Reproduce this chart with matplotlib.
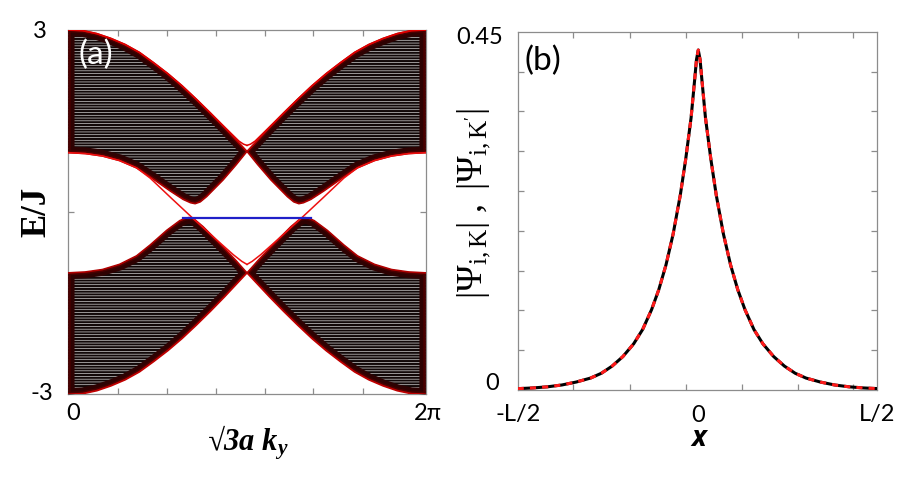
import numpy as np
import matplotlib
matplotlib.use('Agg')
import matplotlib.pyplot as plt
from matplotlib.patches import Polygon

plt.rcParams['mathtext.fontset'] = 'custom'
plt.rcParams['mathtext.rm'] = 'Liberation Serif'
plt.rcParams['mathtext.it'] = 'Liberation Serif:italic'
plt.rcParams['mathtext.bf'] = 'Liberation Serif:bold:italic'
plt.rcParams['hatch.color'] = '#e6e6e6'
plt.rcParams['hatch.linewidth'] = 0.45

TWO_PI = 2 * np.pi

# ---- panel (a): band edges, left half (0..pi) ----
k_top = [0, 0.25, 0.5, 0.75, 1.0, 1.25, 1.5, 1.75, 2.0, 2.25, 2.5, 2.75, 3.0, 3.14]
e_top = [3.00, 2.99, 2.94, 2.86, 2.76, 2.63, 2.46, 2.28, 2.08, 1.86, 1.63, 1.39, 1.14, 1.00]
e_bot = [-3.00, -2.99, -2.94, -2.86, -2.76, -2.63, -2.46, -2.28, -2.08, -1.86, -1.63, -1.39, -1.14, -1.00]

k_up_in = [0, 0.3, 0.6, 0.9, 1.2, 1.44, 1.79, 2.02, 2.15, 2.23, 2.32, 2.43, 2.72, 2.95, 3.14]
e_up_in = [0.98, 0.965, 0.925, 0.85, 0.73, 0.58, 0.35, 0.21, 0.155, 0.14, 0.17, 0.255, 0.53, 0.78, 1.00]

k_lo_in = [0, 0.3, 0.6, 0.9, 1.2, 1.44, 1.73, 1.96, 2.06, 2.12, 2.20, 2.37, 2.72, 2.95, 3.14]
e_lo_in = [-1.00, -0.985, -0.945, -0.86, -0.72, -0.54, -0.30, -0.14, -0.10, -0.09, -0.105, -0.24, -0.57, -0.80, -1.00]

# red outer outline near the upper crossing sits a bit above the black
k_top_red = [0, 0.25, 0.5, 0.75, 1.0, 1.25, 1.5, 1.75, 2.0, 2.25, 2.5, 2.75, 3.0, 3.08, 3.14]
e_top_red = [3.00, 2.99, 2.94, 2.86, 2.76, 2.63, 2.46, 2.28, 2.08, 1.86, 1.63, 1.40, 1.17, 1.12, 1.10]

# edge state (red) leaving the upper band
k_edge = [0, 0.3, 0.6, 0.9, 1.2, 1.44, 1.8, 2.2, 2.6, 2.9, 3.05, 3.14]
e_edge = [0.98, 0.965, 0.925, 0.85, 0.73, 0.56, 0.24, -0.11, -0.45, -0.70, -0.81, -0.86]

# flat band (blue)
k_flat = [2.02, 4.26]
e_flat = [-0.10, -0.10]

k_ticks_a = [0.88, 1.73, 2.59, 3.46, 4.31, 5.18]

# ---- panel (b): |Psi| profile, x in units of L ----
x_psi = [-0.50, -0.457, -0.417, -0.377, -0.337, -0.297, -0.267, -0.237, -0.207, -0.177,
         -0.152, -0.127, -0.107, -0.087, -0.067, -0.047, -0.032, -0.017, -0.007, -0.002,
         0.003,
         0.008, 0.013, 0.023, 0.038, 0.053, 0.073, 0.093, 0.113, 0.133, 0.158,
         0.183, 0.213, 0.243, 0.273, 0.303, 0.343, 0.383, 0.423, 0.463, 0.50]
psi = [0.0017, 0.0026, 0.0040, 0.0063, 0.010, 0.015, 0.021, 0.030, 0.042, 0.058,
       0.076, 0.101, 0.126, 0.157, 0.196, 0.245, 0.290, 0.342, 0.39, 0.415,
       0.427,
       0.415, 0.39, 0.342, 0.290, 0.245, 0.196, 0.157, 0.126, 0.101, 0.076,
       0.058, 0.042, 0.030, 0.021, 0.015, 0.010, 0.0063, 0.0040, 0.0026, 0.0018]
x_ticks_b = [-0.345, -0.187, -0.031, 0.124, 0.280, 0.435]
y_ticks_b = [0.05, 0.10, 0.15, 0.20, 0.25, 0.30, 0.35, 0.40]

GRAY = '#8c8c8c'

fig = plt.figure(figsize=(9.18, 4.82), dpi=100)
ax1 = fig.add_axes([68.3 / 918, 1 - 394.3 / 482, 357.4 / 918, 364.3 / 482])
ax2 = fig.add_axes([517.7 / 918, 1 - 390 / 482, 359 / 918, 358.3 / 482])


def mirror(k):
    return [TWO_PI - v for v in k]


def band(ax, k_a, e_a, k_b, e_b):
    xs = list(k_a) + list(k_b)[::-1]
    ys = list(e_a) + list(e_b)[::-1]
    poly = Polygon(np.column_stack([xs, ys]), closed=True, facecolor='#120808',
                   edgecolor='#e6e6e6', linewidth=0, hatch='------', zorder=3)
    ax.add_patch(poly)
    # dark reddish rim inside the band
    ax.plot(xs + xs[:1], ys + ys[:1], color='#2e0202', lw=9, zorder=3.5,
            clip_path=poly, solid_joinstyle='round')
    ax.plot(xs + xs[:1], ys + ys[:1], color='#4a0000', lw=3.5, zorder=3.6,
            clip_path=poly, solid_joinstyle='round')
    ax.plot(k_a, e_a, color='#c00000', lw=1.3, zorder=4, solid_joinstyle='round')
    ax.plot(k_b, e_b, color='#b00000', lw=1.2, zorder=4, solid_joinstyle='round')


for mir in (False, True):
    f = mirror if mir else (lambda k: k)
    band(ax1, f(k_top), e_top, f(k_up_in), e_up_in)
    band(ax1, f(k_top), e_bot, f(k_lo_in), e_lo_in)
    ax1.plot(f(k_top_red), e_top_red, color='#e00000', lw=1.1, zorder=4)
    ax1.plot(f(k_edge), e_edge, color='#ee1010', lw=1.1, zorder=4.5,
             solid_joinstyle='round')

ax1.plot(k_flat, e_flat, color='#1f1fc8', lw=1.6, zorder=5)

ax1.set_xlim(0, TWO_PI)
ax1.set_ylim(-3, 3)
ax1.set_xticks(k_ticks_a)
ax1.set_yticks([0])
ax1.tick_params(direction='in', length=4, width=0.9, color=GRAY,
                top=True, right=True, labelbottom=False, labelleft=False)
for s in ax1.spines.values():
    s.set_color(GRAY)
    s.set_linewidth(0.9)

ax2.plot(x_psi, psi, color='black', lw=2.2, zorder=3, solid_joinstyle='round')
ax2.plot(x_psi, psi, color='#ff1a1a', lw=2.2, ls=(0, (2, 2)), zorder=4)
ax2.set_xlim(-0.5, 0.5)
ax2.set_ylim(0, 0.45)
ax2.set_xticks(x_ticks_b)
ax2.set_yticks(y_ticks_b)
ax2.tick_params(direction='in', length=4, width=0.9, color=GRAY,
                top=True, right=True, labelbottom=False, labelleft=False)
for s in ax2.spines.values():
    s.set_color(GRAY)
    s.set_linewidth(0.9)

# tick labels and axis labels placed in pixel coordinates
W, H = 918, 482
tick_font = dict(family=['Lato', 'DejaVu Sans'], fontsize=17, color='black')


def ftext(x, y, s, **kw):
    fig.text(x / W, 1 - y / H, s, **kw)


ftext(40, 31, '3', ha='center', va='center', **tick_font)
ftext(42, 393, '-3', ha='center', va='center', **tick_font)
ftext(73, 413, '0', ha='center', va='center', **tick_font)
ftext(428, 413, '2\u03c0', ha='center', va='center', **tick_font)

ftext(503, 37, '0.45', ha='right', va='center', **tick_font)
ftext(499, 384, '0', ha='right', va='center', **tick_font)
ftext(518, 415, '-L/2', ha='center', va='center', **tick_font)
ftext(698, 415, '0', ha='center', va='center', **tick_font)
ftext(877, 415, 'L/2', ha='center', va='center', **tick_font)

ftext(37, 212, 'E/J', ha='center', va='center', rotation=90,
      family='Liberation Serif', fontweight='bold', fontsize=25)
ftext(248, 443, '$\\mathbf{\u221a3a\\ k_y}$', ha='center', va='center', fontsize=22)
ftext(699, 438, 'x', ha='center', va='center', family='Open Sans',
      fontweight='bold', style='italic', fontsize=20)
ftext(474, 204, r"$|\Psi_{\mathrm{i,K}}|\ ,\ |\Psi_{\mathrm{i,K'}}|$",
      ha='center', va='center', rotation=90, fontsize=26)

ftext(79, 55, '(a)', ha='left', va='center', color='white',
      family=['Lato', 'DejaVu Sans'], fontsize=24)
ftext(525, 61, '(b)', ha='left', va='center', color='black',
      family=['Lato', 'DejaVu Sans'], fontsize=24)

fig.savefig('out.png', dpi=100, facecolor='white')
